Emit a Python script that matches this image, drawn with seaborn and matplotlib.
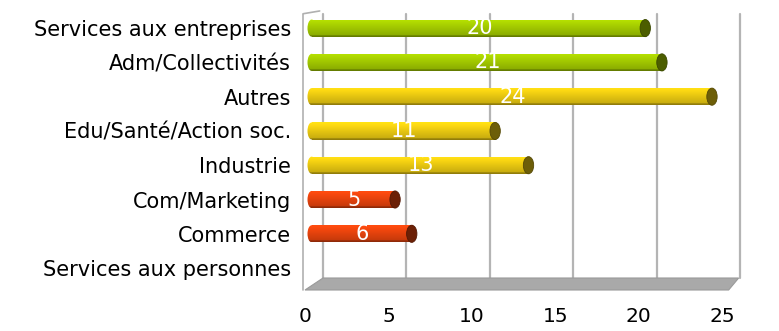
import numpy as np
import pandas as pd
import matplotlib
matplotlib.use("Agg")
import matplotlib.pyplot as plt
import seaborn as sns
from matplotlib.patches import Polygon, Ellipse
from matplotlib.colors import to_rgb

categories = ["Services aux entreprises", "Adm/Collectivités", "Autres",
              "Edu/Santé/Action soc.", "Industrie", "Com/Marketing",
              "Commerce", "Services aux personnes"]
values = [20, 21, 24, 11, 13, 5, 6, 0]
bar_colors = ["#a8d000", "#a8d000", "#f2d012", "#f2d012", "#f2d012",
              "#f0460e", "#f0460e", "#f0460e"]
x_ticks = [0, 5, 10, 15, 20, 25]

df = pd.DataFrame({"secteur": categories, "n": values})

sns.set_style("white")
plt.rcParams["font.family"] = ["DejaVu Sans"]

fig = plt.figure(figsize=(7.79, 3.31), dpi=100)
ax = fig.add_axes([305 / 779, 41 / 331, 435 / 779, 278 / 331])

sns.barplot(data=df, y="secteur", x="n", hue="secteur", palette=bar_colors,
            legend=False, orient="h", width=0.5, ax=ax, zorder=3)

xmax = 26.08
ybot, ytop = 7.64, -0.47
ax.set_xlim(0, xmax)
ax.set_ylim(ybot, ytop)

depth_x, depth_y = 1.08, 0.35
back = ybot - depth_y

# back wall gridlines
for t in x_ticks:
    ax.plot([t + depth_x, t + depth_x], [back, ytop + 0.05], color="#b4b4b4",
            lw=1.6, zorder=1, clip_on=False)
# floor
floor = Polygon([(0, ybot), (25.4, ybot), (26.0, back), (depth_x, back)],
                closed=True, facecolor="#a9a9a9", edgecolor="#9a9a9a",
                lw=0.8, zorder=2, clip_on=False)
ax.add_patch(floor)
# left wall edge
ax.plot([-0.1, -0.1], [ybot, ytop + 0.05], color="#b0b0b0", lw=1.2,
        zorder=2, clip_on=False)
ax.plot([-0.1, depth_x - 0.2], [ytop + 0.05, ytop - 0.03], color="#b0b0b0",
        lw=1.2, zorder=2, clip_on=False)

# cylinder shading on the bars
grad = np.linspace(0, 1, 64)[:, None]
for patch, col, v in zip(ax.patches, bar_colors, values):
    if v == 0:
        patch.set_visible(False)
        continue
    patch.set_x(0.4)
    patch.set_edgecolor("none")
    rgb = np.array(to_rgb(col))
    shade = 1.1 - 0.3 * grad
    shade[-6:] = 0.6
    img = np.clip(rgb[None, None, :] * shade[:, :, None], 0, 1)
    x0, y0 = patch.get_x(), patch.get_y()
    w, h = patch.get_width(), patch.get_height()
    ext = (x0 - 0.3, x0 + w, y0 + h, y0)
    im = ax.imshow(img, extent=ext, aspect="auto", zorder=4,
                   interpolation="bilinear")
    im.set_clip_path(patch)
    # rounded left end, same shading
    left = Ellipse((x0, y0 + h / 2), 0.5, h, facecolor="none",
                   edgecolor="none", zorder=4)
    ax.add_patch(left)
    im2 = ax.imshow(img, extent=ext, aspect="auto", zorder=4,
                    interpolation="bilinear")
    im2.set_clip_path(left)
    cap = Ellipse((x0 + w, y0 + h / 2), 0.62, h,
                  facecolor=tuple(rgb * 0.45), edgecolor=tuple(rgb * 0.35),
                  lw=0.6, zorder=5)
    ax.add_patch(cap)
    ax.text(v / 2 + 0.45, y0 + h / 2, str(v), color="white", fontsize=15,
            ha="center", va="center", zorder=6)

ax.set_xlim(0, xmax)
ax.set_ylim(ybot, ytop)
ax.set_xticks(x_ticks)
ax.set_xticklabels([str(t) for t in x_ticks], fontsize=14.5, color="black")
ax.tick_params(axis="y", labelsize=15, labelcolor="black", length=0, pad=10)
ax.tick_params(axis="x", length=0, pad=12)
ax.set_xlabel("")
ax.set_ylabel("")
for s in ax.spines.values():
    s.set_visible(False)
ax.grid(False)

fig.savefig("out.png", dpi=100)
